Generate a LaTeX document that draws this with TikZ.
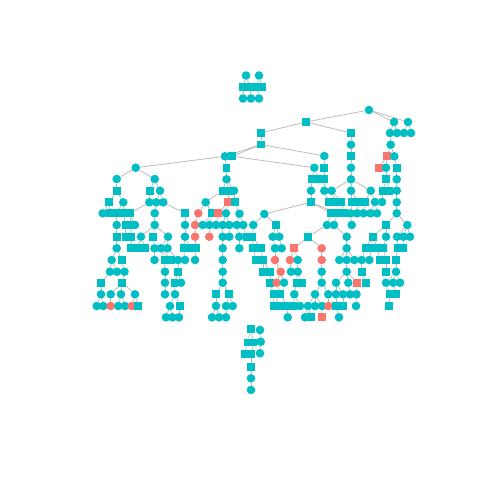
\documentclass[tikz,border=0pt]{standalone}
\usepackage{tikz}
\definecolor{tealc}{RGB}{0,191,196}
\definecolor{salmc}{RGB}{248,118,109}
\definecolor{edgec}{RGB}{185,185,185}
\tikzset{
  tcir/.style={circle,fill=tealc,inner sep=0pt,minimum size=8.6pt},
  rcir/.style={circle,fill=salmc,inner sep=0pt,minimum size=8.6pt},
  tsq/.style={rectangle,fill=tealc,inner sep=0pt,minimum width=7.8pt,minimum height=7.8pt},
  rsq/.style={rectangle,fill=salmc,inner sep=0pt,minimum width=7.8pt,minimum height=7.8pt},
  conn/.style={draw=edgec,line width=0.75pt}
}
\newcommand\nodelist{%
% top component
\mkroot{t1}{246}{75.5}{tcir}
\mkroot{t2}{259}{75.5}{tcir}
\mknode{t3}{243}{87}{tsq}{t1}
\mknode{t4}{250}{87}{tsq}{t1}
\mknode{t5}{257}{87}{tsq}{t2}
\mknode{t6}{262}{87}{tsq}{t2}
\mknode{t7}{243}{98.5}{tcir}{t3}
\mknode{t8}{251}{98.5}{tcir}{t4}
\mknode{t9}{259}{98.5}{tcir}{t5}
% main tree
\mkroot{R}{369}{110}{tcir}
\mknode{a1}{306}{122}{tsq}{R}
\mknode{a2}{394}{122}{tcir}{R}
\mknode{a3}{408}{122}{tcir}{R}
\mknode{a4}{390}{133}{tcir}{a2}
\mknode{a5}{397}{133}{tcir}{a2}
\mknode{a6}{404}{133}{tcir}{a3}
\mknode{a7}{411}{133}{tcir}{a3}
\mknode{a8}{390.7}{144.7}{tcir}{a4}
\mknode{a9}{387}{156.3}{rsq}{a8}
\mknode{a10}{394.3}{156.3}{tcir}{a8}
\mknode{a11}{379.3}{167.7}{rsq}{a9}
\mknode{a12}{386}{167.7}{tcir}{a9}
\mknode{a13}{396.7}{167.7}{tsq}{a10}
\mknode{a14}{386}{179.3}{tsq}{a12}
\mknode{a15}{396.7}{179.3}{tcir}{a13}
\mknode{a16}{383}{190.7}{tsq}{a14}
\mknode{a17}{389.5}{190.7}{tsq}{a14}
\mknode{a18}{396.7}{190.7}{tcir}{a15}
\mknode{a19}{396.7}{202.3}{tcir}{a18}
\mknode{a20}{396.7}{213.3}{tcir}{a19}
\mknode{a21}{386}{225}{tsq}{a20}
\mknode{a22}{407.3}{225}{tcir}{a20}
\mknode{a23}{372.7}{236.7}{tsq}{a21}
\mknode{a24}{386}{236.7}{tcir}{a21}
\mknode{a25}{397}{236.7}{tcir}{a22}
\mknode{a26}{403.5}{236.7}{tcir}{a22}
\mknode{a27}{410}{236.7}{tcir}{a22}
\mknode{a28}{365.5}{248.3}{tsq}{a23}
\mknode{a29}{371.5}{248.3}{tsq}{a23}
\mknode{a30}{377.5}{248.3}{tsq}{a23}
\mknode{a31}{383.5}{248.3}{tsq}{a24}
\mknode{a32}{397.5}{248.3}{tsq}{a25}
\mknode{a33}{403}{248.3}{tsq}{a26}
\mknode{a35}{361.7}{260}{tcir}{a28}
\mknode{a36}{369.3}{260}{tcir}{a29}
\mknode{a37}{380}{260}{tsq}{a30}
\mknode{a38}{386}{260}{tsq}{a31}
\mknode{a39}{396}{260}{tsq}{a32}
\mknode{a40}{361.7}{271.7}{tsq}{a35}
\mknode{a41}{386}{271.7}{tsq}{a38}
\mknode{a42}{396}{271.7}{tcir}{a39}
\mknode{a43}{366}{282.7}{tsq}{a40}
\mknode{a44}{386}{282.7}{tcir}{a42}
\mknode{a45}{393.3}{282.7}{tcir}{a42}
\mknode{a46}{400}{282.7}{tcir}{a42}
\mknode{a47}{390}{294.3}{tsq}{a44}
\mknode{a48}{396.5}{294.3}{tsq}{a45}
\mknode{a49}{389.3}{306}{tsq}{a47}
% middle upper
\mknode{b1}{261}{133}{tsq}{a1}
\mknode{b2}{351}{133}{tsq}{a1}
\mknode{b3}{261}{144.5}{tsq}{b1}
\mknode{b4}{351}{144.7}{tcir}{b2}
\mknode{b5}{351}{156}{tsq}{b4}
\mknode{b6}{351}{167.7}{tcir}{b5}
\mknode{b7}{351}{179.3}{tcir}{b6}
\mknode{c1}{225}{156.3}{tcir}{b3}
\mknode{c2}{232.3}{156.3}{tsq}{b3}
\mknode{c3}{324.3}{156}{tcir}{b3}
\mknode{c4}{314.3}{167.7}{tcir}{c2}
\mknode{c5}{324.3}{167.7}{tsq}{c3}
\mknode{c6}{226.5}{167.7}{tsq}{c1}
\mknode{L}{135.7}{167.7}{tcir}{c1}
% right middle
\mknode{d1}{312}{179.3}{tsq}{c4}
\mknode{d2}{318.5}{179.3}{tsq}{c4}
\mknode{d3}{324.3}{179.3}{tsq}{c5}
\mknode{d4}{311}{190.7}{tcir}{d1}
\mknode{d5}{324.3}{190.7}{tcir}{d3}
\mknode{d6}{331.7}{190.7}{tcir}{b7}
\mknode{d7}{351}{190.7}{tcir}{b7}
\mknode{d8}{370.7}{190.7}{tcir}{b7}
\mknode{d9}{311}{202.3}{tsq}{d4}
\mknode{d10}{328.5}{202.3}{tsq}{d5}
\mknode{d11}{335}{202.3}{tsq}{d6}
\mknode{d12}{341.5}{202.3}{tsq}{d6}
\mknode{d13}{352}{202.3}{tsq}{d7}
\mknode{d14}{358.5}{202.3}{tsq}{d7}
\mknode{d15}{365}{202.3}{tsq}{d8}
\mknode{d16}{375}{202}{tcir}{d8}
\mknode{d17}{382}{202}{tcir}{a16}
\mknode{e1}{331}{213.3}{tsq}{d9}
\mknode{e2}{337.5}{213.3}{tsq}{d9}
\mknode{e3}{344}{213.3}{tsq}{d12}
\mknode{e4}{350.5}{213.3}{tcir}{d13}
\mknode{e5}{357}{213.3}{tcir}{d14}
\mknode{e6}{363.5}{213.3}{tcir}{d15}
\mknode{e7}{370.5}{213.3}{tcir}{d16}
\mknode{e8}{377}{213.3}{tcir}{d16}
\mknode{e9}{327}{225}{tcir}{e1}
\mknode{e10}{334}{225}{tcir}{e2}
\mknode{e11}{351.7}{225}{tcir}{e4}
\mknode{e12}{308.3}{236.7}{tsq}{e9}
\mknode{e13}{346.7}{236.7}{tcir}{e10}
\mknode{e14}{294.3}{248.3}{rsq}{e12}
\mknode{e15}{321.7}{248.3}{rcir}{e12}
\mknode{e16}{346.7}{248.3}{tcir}{e13}
\mknode{e17}{290}{260}{rcir}{e14}
\mknode{e18}{297.7}{260}{tcir}{e14}
\mknode{e19}{321.7}{260}{rcir}{e15}
\mknode{e20}{339.3}{260}{tcir}{e16}
\mknode{e21}{346.7}{260}{tcir}{e16}
\mknode{e22}{354.3}{260}{tcir}{e16}
\mknode{e23}{291}{271.7}{tcir}{e17}
\mknode{e24}{297.7}{271.7}{tcir}{e18}
\mknode{e25}{321.7}{271.7}{tcir}{e19}
\mknode{e26}{346.7}{271.7}{tcir}{e21}
\mknode{e27}{296.5}{282.7}{tsq}{e24}
\mknode{e28}{302}{282.7}{tsq}{e24}
\mknode{e29}{321.7}{282.7}{tcir}{e25}
\mknode{e30}{336}{282.7}{tcir}{e26}
\mknode{e31}{348.3}{282.7}{tcir}{e26}
\mknode{e32}{357}{282.7}{rsq}{e26}
\mknode{e33}{294.3}{294.3}{tcir}{e27}
\mknode{e34}{315}{294.3}{tcir}{e29}
\mknode{e35}{328.3}{294.3}{tcir}{e29}
\mknode{e36}{336}{294.3}{tcir}{e30}
\mknode{e37}{343}{294.3}{tcir}{e30}
\mknode{e38}{350}{294.3}{tcir}{e31}
\mknode{e39}{356.5}{294.3}{tcir}{e32}
\mknode{e40}{308}{306}{tcir}{e34}
\mknode{e41}{315}{306}{tcir}{e34}
\mknode{e42}{322}{306}{tcir}{e34}
\mknode{e43}{328.3}{306}{rcir}{e35}
\mknode{e44}{336}{306}{tsq}{e36}
\mknode{e45}{343}{306}{tsq}{e37}
\mknode{e46}{356}{306}{tcir}{e39}
\mknode{e47}{305}{317.3}{tcir}{e40}
\mknode{e48}{310.7}{317.3}{tsq}{e40}
\mknode{e49}{321.7}{317.3}{rsq}{e42}
\mknode{e50}{339}{317.3}{tcir}{e44}
% subtree under d9
\mknode{f1}{264.3}{214}{tcir}{d9}
\mknode{f2}{253.3}{225}{tcir}{f1}
\mknode{f3}{275.7}{225}{tsq}{f1}
\mknode{f4}{252.5}{236.7}{tsq}{f2}
\mknode{f5}{272.7}{236.7}{tcir}{f3}
\mknode{f6}{279.3}{236.7}{tcir}{f3}
\mknode{f7}{253.3}{248.3}{tsq}{f4}
\mknode{f8}{260.7}{248.3}{tsq}{f4}
\mknode{f9}{275}{248.3}{tcir}{f5}
\mknode{f10}{281.7}{248.3}{tcir}{f6}
\mknode{f11}{256}{260}{tsq}{f7}
\mknode{f12}{263}{260}{tsq}{f8}
\mknode{f13}{275}{260}{rcir}{f9}
\mknode{f14}{263}{271.7}{tsq}{f12}
\mknode{f15}{270}{271.7}{tsq}{f12}
\mknode{f16}{280.7}{271.7}{rcir}{f13}
\mknode{f17}{270}{282.7}{tsq}{f15}
\mknode{f18}{276.7}{282.7}{rcir}{f16}
\mknode{f19}{284}{282.7}{tcir}{f16}
\mknode{f20}{273.5}{294.3}{tsq}{f17}
\mknode{f21}{280.5}{294.3}{tsq}{f18}
\mknode{f23}{274}{306}{tsq}{f20}
\mknode{f24}{280.5}{306}{tsq}{f20}
\mknode{f25}{287}{306}{tsq}{f21}
\mknode{f26}{293.5}{306}{tsq}{e33}
\mknode{f27}{300}{306}{tcir}{e33}
\mknode{f28}{287.7}{317.3}{tcir}{f25}
% middle subtree
\mknode{M1}{226.5}{179.3}{tcir}{c6}
\mknode{M2}{222.5}{190.7}{tsq}{M1}
\mknode{M3}{229}{190.7}{tsq}{M1}
\mknode{M4}{234}{190.7}{tcir}{M1}
\mknode{M5}{205.7}{202.3}{tcir}{M2}
\mknode{M6}{228.3}{202.3}{rsq}{M3}
\mknode{M7}{235}{202.3}{tsq}{M4}
\mknode{M8}{198.3}{213.3}{rcir}{M5}
\mknode{M9}{212.3}{213.3}{tsq}{M5}
\mknode{M10}{218.3}{213.3}{rsq}{M6}
\mknode{M11}{226}{213.3}{tcir}{M6}
\mknode{M12}{239.5}{213.7}{tcir}{M7}
\mknode{M13}{195}{225}{rcir}{M8}
\mknode{M14}{202.7}{225}{tcir}{M9}
\mknode{M15}{209.3}{225}{tcir}{M9}
\mknode{M16}{216}{225}{tcir}{M10}
\mknode{M17}{222.7}{225}{tcir}{M11}
\mknode{M18}{229.3}{225}{tcir}{M11}
\mknode{M19}{236.7}{225}{tcir}{M12}
\mknode{M20}{243.3}{225}{tcir}{M12}
\mknode{M21}{195}{236.7}{rcir}{M13}
\mknode{M22}{209.3}{236.7}{rcir}{M15}
\mknode{M23}{222.7}{236.7}{tcir}{M17}
\mknode{M24}{229.3}{236.7}{tcir}{M18}
\mknode{M25}{239.3}{236.7}{tcir}{M19}
\mknode{M26}{246.5}{236.7}{tsq}{M20}
\mknode{M27}{196}{248.3}{tsq}{M21}
\mknode{M28}{222.7}{248.3}{tcir}{M23}
\mknode{M29}{239.3}{248.3}{tcir}{M25}
\mknode{M30}{195}{260}{tcir}{M27}
\mknode{M31}{222.7}{260}{tcir}{M28}
\mknode{M32}{222.7}{271.7}{tcir}{M31}
\mknode{M33}{222.7}{282.7}{tcir}{M32}
\mknode{M34}{216}{294.3}{tsq}{M33}
\mknode{M35}{229.3}{294.3}{tsq}{M33}
\mknode{M36}{216}{306}{tcir}{M34}
\mknode{M37}{226}{306}{tcir}{M35}
\mknode{M38}{232.7}{306}{tcir}{M35}
\mknode{M39}{212}{317.3}{tcir}{M36}
\mknode{M40}{219}{317.3}{tcir}{M36}
\mknode{M41}{226}{317.3}{tcir}{M37}
% left subtree
\mknode{L1}{116.7}{179}{tcir}{L}
\mknode{L2}{154.7}{179}{tcir}{L}
\mknode{L3}{116.7}{190.7}{tsq}{L1}
\mknode{L4}{150}{190.7}{tsq}{L2}
\mknode{L5}{160}{190.7}{tcir}{L2}
\mknode{L6}{109.3}{202.3}{tsq}{L3}
\mknode{L7}{123.3}{202.3}{tcir}{L3}
\mknode{L8}{149.3}{202.3}{tcir}{L4}
\mknode{L9}{156.3}{202.3}{tcir}{L5}
\mknode{L10}{163.3}{202.3}{tcir}{L5}
\mknode{L11}{102.7}{213.3}{tcir}{L6}
\mknode{L12}{109.5}{213.3}{tsq}{L6}
\mknode{L13}{116.5}{213.3}{tsq}{L7}
\mknode{L14}{123.5}{213.3}{tsq}{L7}
\mknode{L15}{130}{213.3}{tsq}{L8}
\mknode{L16}{154.7}{213.3}{tcir}{L9}
\mknode{L17}{185}{213.3}{tsq}{L10}
\mknode{L18}{116.7}{225}{tcir}{L13}
\mknode{L19}{125.5}{225}{tsq}{L14}
\mknode{L20}{131}{225}{tsq}{L15}
\mknode{L21}{135}{225}{tcir}{L15}
\mknode{L22}{154.7}{225}{tcir}{L16}
\mknode{L23}{185}{225}{tcir}{L17}
\mknode{L24}{116.7}{236.7}{tsq}{L18}
\mknode{L25}{125.5}{236.7}{tsq}{L19}
\mknode{L26}{131.5}{236.7}{tsq}{L20}
\mknode{L27}{141}{236.7}{tcir}{L22}
\mknode{L28}{153.3}{236.7}{tsq}{L22}
\mknode{L29}{168}{236.7}{tcir}{L22}
\mknode{L30}{185}{236.7}{tcir}{L23}
\mknode{L31}{116.7}{248.3}{tcir}{L24}
\mknode{L32}{131}{248.3}{tsq}{L26}
\mknode{L33}{138}{248.3}{tsq}{L27}
\mknode{L34}{145}{248.3}{tsq}{L27}
\mknode{L35}{154.5}{248.3}{tcir}{L28}
\mknode{L36}{161}{248.3}{tcir}{L29}
\mknode{L37}{167.5}{248.3}{tcir}{L29}
\mknode{L38}{183.5}{248.3}{tsq}{L30}
\mknode{L39}{190}{248.3}{tsq}{L30}
\mknode{L40}{111.7}{260}{tcir}{L31}
\mknode{L41}{121.7}{260}{tsq}{L31}
\mknode{L42}{154.5}{260}{tcir}{L35}
\mknode{L43}{164.5}{260}{tsq}{L36}
\mknode{L44}{171}{260}{tsq}{L36}
\mknode{L45}{178}{260}{tcir}{L37}
\mknode{L46}{185}{260}{tcir}{L38}
\mknode{L47}{110}{271.7}{tcir}{L40}
\mknode{L48}{117}{271.7}{tcir}{L40}
\mknode{L49}{124.5}{271.7}{tcir}{L41}
\mknode{L50}{165}{271.7}{tcir}{L43}
\mknode{L51}{178.3}{271.7}{tsq}{L45}
\mknode{L52}{101}{282.7}{tsq}{L47}
\mknode{L53}{122.3}{282.7}{tsq}{L49}
\mknode{L54}{165}{282.7}{tcir}{L50}
\mknode{L55}{174.5}{282.7}{tsq}{L51}
\mknode{L56}{181}{282.7}{tcir}{L51}
\mknode{L57}{101}{294.3}{tcir}{L52}
\mknode{L58}{110.7}{294.3}{tcir}{L53}
\mknode{L59}{121}{294.3}{tcir}{L53}
\mknode{L60}{135}{294.3}{tcir}{L53}
\mknode{L61}{165}{294.3}{tcir}{L54}
\mknode{L62}{175}{294.3}{tcir}{L55}
\mknode{L63}{96.7}{306}{tcir}{L57}
\mknode{L64}{103.3}{306}{tcir}{L57}
\mknode{L65}{110.7}{306}{rcir}{L58}
\mknode{L66}{118.3}{306}{tcir}{L59}
\mknode{L67}{125}{306}{tcir}{L59}
\mknode{L68}{131.7}{306}{rcir}{L60}
\mknode{L69}{138.3}{306}{tsq}{L60}
\mknode{L70}{170}{306}{tcir}{L62}
\mknode{L71}{180}{306}{tsq}{L62}
\mknode{L72}{166}{317.3}{tcir}{L70}
\mknode{L73}{172.5}{317.3}{tcir}{L70}
\mknode{L74}{179}{317.3}{tcir}{L71}
% bottom component
\mkroot{u1}{251}{329.3}{tsq}
\mkroot{u2}{260}{330}{tcir}
\mknode{u3}{247.5}{342.5}{tsq}{u1}
\mknode{u4}{253.5}{342.5}{tsq}{u1}
\mknode{u5}{260.7}{341.7}{tcir}{u2}
\mknode{u6}{244.5}{354.3}{tsq}{u3}
\mknode{u7}{251}{354.3}{tsq}{u4}
\mknode{u8}{260}{353.3}{tcir}{u5}
\mknode{u9}{251}{366.7}{tsq}{u7}
\mknode{u10}{251}{378.3}{tcir}{u9}
\mknode{u11}{251}{390}{tcir}{u10}
}
\begin{document}
\begin{tikzpicture}[x=1pt,y=-1pt]
\fill[white] (0,0) rectangle (480,480);
\useasboundingbox (0,0) rectangle (480,480);
% pass 1: node outlines (invisible) and connectors
\def\mkroot#1#2#3#4{\node[#4,fill=none] (#1) at (#2,#3) {};}
\def\mknode#1#2#3#4#5{\node[#4,fill=none] (#1) at (#2,#3) {};\draw[conn] (#5) -- (#1);}
\nodelist
% pass 2: filled nodes on top
\def\mkroot#1#2#3#4{\node[#4] (#1) at (#2,#3) {};}
\def\mknode#1#2#3#4#5{\node[#4] (#1) at (#2,#3) {};}
\nodelist
\end{tikzpicture}
\end{document}
